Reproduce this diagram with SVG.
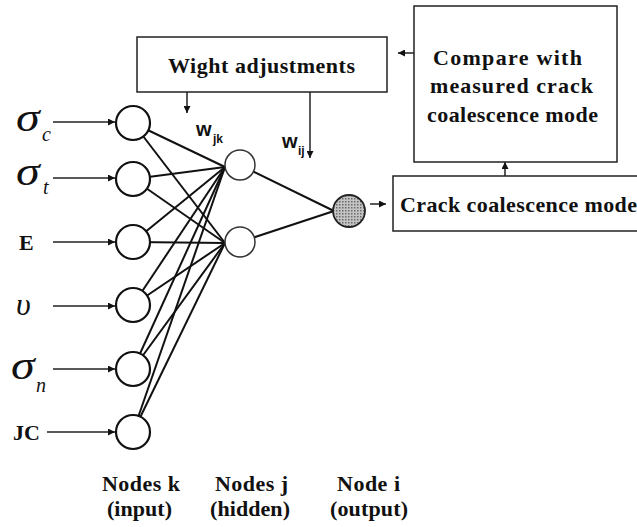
<svg xmlns="http://www.w3.org/2000/svg" width="637" height="527" viewBox="0 0 637 527">
<style>
.box{fill:#fff;stroke:#222;stroke-width:1.5}
.bt{font-weight:bold;font-size:22px;fill:#111}
.gr{font-style:italic;fill:#111}
.w{font-weight:bold;fill:#111}
.in{fill:#fff;stroke:#111;stroke-width:2.2}
.hid{fill:#fff;stroke:#333;stroke-width:1.5}
.ln{stroke:#111;stroke-width:2;fill:none}
.ar{stroke:#222;stroke-width:1.5;fill:none}
</style>
<defs>
<marker id="ah" viewBox="0 0 10 10" refX="10" refY="5" markerWidth="7" markerHeight="7" markerUnits="userSpaceOnUse" orient="auto">
<path d="M0,0 L10,5 L0,10 z" fill="#111"/>
</marker>
<pattern id="dots" width="3" height="3" patternUnits="userSpaceOnUse">
<rect width="3" height="3" fill="#c4c4c4"/>
<rect width="1.5" height="1.5" fill="#6a6a6a"/>
</pattern>
</defs>
<rect width="637" height="527" fill="#fff"/>

<g id="connectors">
<g class="ln">
<line x1="133" y1="123" x2="225" y2="167"/><line x1="133" y1="123" x2="225" y2="243"/>
<line x1="133" y1="179" x2="225" y2="167"/><line x1="133" y1="179" x2="225" y2="243"/>
<line x1="133" y1="242" x2="225" y2="167"/><line x1="133" y1="242" x2="225" y2="243"/>
<line x1="133" y1="305" x2="225" y2="167"/><line x1="133" y1="305" x2="225" y2="243"/>
<line x1="133" y1="369" x2="225" y2="167"/><line x1="133" y1="369" x2="225" y2="243"/>
<line x1="133" y1="432" x2="225" y2="167"/><line x1="133" y1="432" x2="225" y2="243"/>
<line x1="240" y1="165" x2="334" y2="211"/><line x1="240" y1="242" x2="334" y2="211"/>
</g>
<g class="ar" marker-end="url(#ah)">
<line x1="53" y1="122" x2="115" y2="122"/>
<line x1="53" y1="178" x2="115" y2="178"/>
<line x1="53" y1="242" x2="115" y2="242"/>
<line x1="53" y1="306" x2="115" y2="306"/>
<line x1="53" y1="369" x2="115" y2="369"/>
<line x1="47" y1="432" x2="115" y2="432"/>
<line x1="187" y1="92" x2="187" y2="113"/>
<line x1="310" y1="92" x2="310" y2="158"/>
<line x1="414" y1="53" x2="398" y2="53"/>
<line x1="505" y1="176" x2="505" y2="162"/>
<line x1="370" y1="204" x2="386" y2="204"/>
</g>
</g>

<g id="input-nodes">
<circle class="in" cx="133" cy="123" r="17"/>
<circle class="in" cx="133" cy="179" r="17"/>
<circle class="in" cx="133" cy="242" r="17"/>
<circle class="in" cx="133" cy="305" r="17"/>
<circle class="in" cx="133" cy="369" r="17"/>
<circle class="in" cx="133" cy="432" r="17"/>
</g>
<g id="hidden-nodes">
<circle class="hid" cx="240" cy="165" r="15"/>
<circle class="hid" cx="240" cy="242" r="15"/>
</g>
<g id="output-node">
<circle cx="349" cy="211" r="16" fill="url(#dots)" stroke="#222" stroke-width="1.8"/>
</g>

<g id="input-labels" font-family="'Times New Roman', 'Liberation Serif', serif">
<text class="gr" transform="translate(16,131) scale(1.2,1)" font-size="40">σ</text><text class="gr" x="42" y="141" font-size="20">c</text>
<text class="gr" transform="translate(16,185) scale(1.2,1)" font-size="40">σ</text><text class="gr" x="43" y="194" font-size="20">t</text>
<text class="bt" x="19" y="250">E</text>
<text class="gr" x="16" y="315" font-size="32">υ</text>
<text class="gr" transform="translate(11,379) scale(1.2,1)" font-size="40">σ</text><text class="gr" x="36" y="392" font-size="20">n</text>
<text class="bt" x="13" y="440">JC</text>
</g>

<g id="weights" font-family="'Liberation Sans', Arial, sans-serif">
<text class="w" x="196" y="136" font-size="20">w</text><text class="w" x="213" y="143" font-size="12">jk</text>
<text class="w" x="282" y="148" font-size="20">w</text><text class="w" x="298" y="155" font-size="12">ij</text>
</g>

<g id="boxes" font-family="'Times New Roman', 'Liberation Serif', serif">
<g id="wight-adjustments">
<rect class="box" x="137" y="37" width="250" height="55"/>
<text class="bt" x="168" y="73" textLength="187" lengthAdjust="spacing">Wight adjustments</text>
</g>
<g id="compare">
<rect class="box" x="414" y="6" width="203" height="156"/>
<text class="bt" x="433" y="65" textLength="149" lengthAdjust="spacing">Compare with</text>
<text class="bt" x="430" y="93" textLength="163" lengthAdjust="spacing">measured crack</text>
<text class="bt" x="427" y="122" textLength="171" lengthAdjust="spacing">coalescence mode</text>
</g>
<g id="crack-mode">
<rect class="box" x="393" y="176" width="260" height="55"/>
<text class="bt" x="400" y="212" textLength="237" lengthAdjust="spacing">Crack coalescence mode</text>
</g>
</g>

<g id="layer-labels" font-family="'Times New Roman', 'Liberation Serif', serif">
<text class="bt" x="102" y="491" textLength="78" lengthAdjust="spacing">Nodes k</text>
<text class="bt" x="107" y="516" textLength="65" lengthAdjust="spacing">(input)</text>
<text class="bt" x="215" y="491" textLength="73" lengthAdjust="spacing">Nodes j</text>
<text class="bt" x="210" y="516" textLength="80" lengthAdjust="spacing">(hidden)</text>
<text class="bt" x="337" y="491" textLength="63" lengthAdjust="spacing">Node i</text>
<text class="bt" x="330" y="516" textLength="78" lengthAdjust="spacing">(output)</text>
</g>
</svg>
